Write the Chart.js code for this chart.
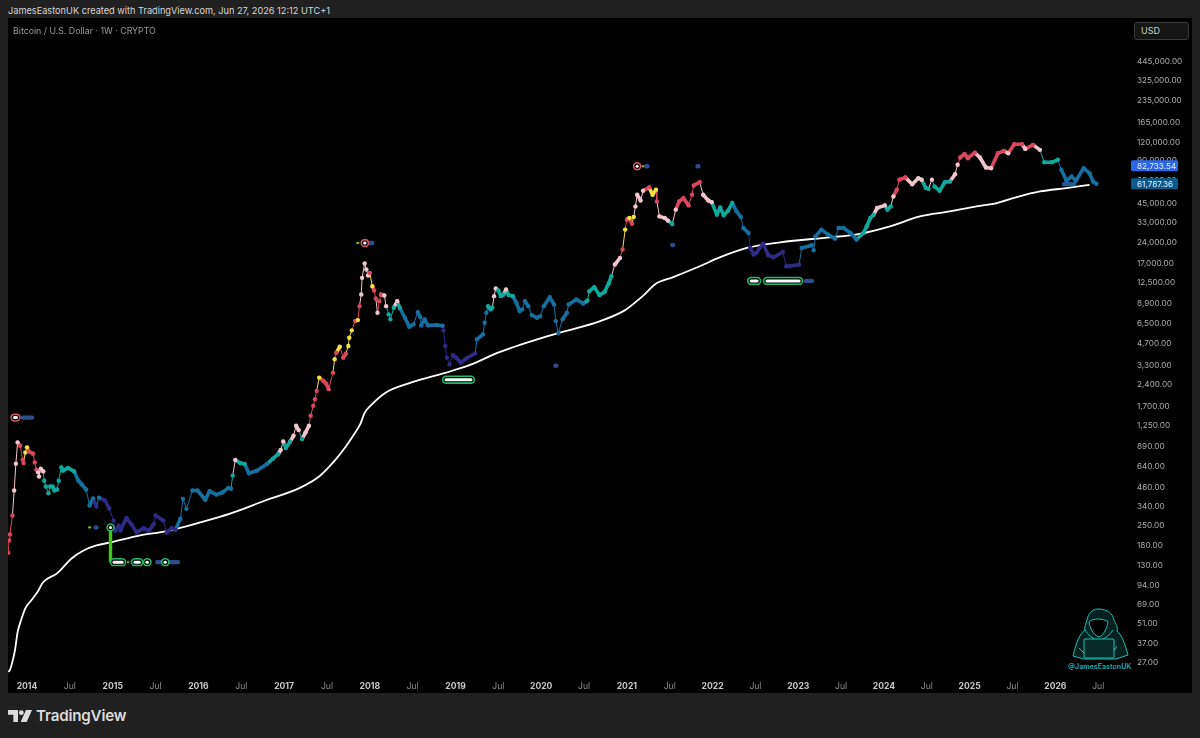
<!DOCTYPE html>
<html>
<head>
<meta charset="utf-8">
<title>Bitcoin / U.S. Dollar</title>
<script src="https://cdn.jsdelivr.net/npm/chart.js@4"></script>
<style>
html, body { margin: 0; padding: 0; background: #202020; overflow: hidden; }
body { width: 1200px; height: 738px; position: relative; font-family: Inter, sans-serif; }
#pane { position: absolute; left: 8px; top: 18px; width: 1184px; height: 675px; background: #000; }
#myChart { position: absolute; left: 0; top: 0; }
.label { position: absolute; white-space: nowrap; }
#credit { left: 8px; top: 5px; font-size: 9.2px; line-height: 12px; color: #d6d6d6; }
#symbol { left: 13px; top: 25px; font-size: 8.8px; line-height: 12px; color: #9c9c9c; }
#currency { left: 1134px; top: 22px; width: 55px; height: 18px; box-sizing: border-box; border: 1px solid #3a3a3a; border-radius: 3px; background: #151515; color: #d0d0d0; font-size: 9px; line-height: 16px; padding-left: 6px; }
#handle { left: 1068px; top: 661px; font-size: 7px; line-height: 11px; font-weight: 700; color: #12a3ad; }
#brand { left: 36px; top: 706px; font-size: 15.2px; line-height: 20px; font-weight: 600; color: #dcdcdc; letter-spacing: -0.2px; }
svg { position: absolute; }
</style>
</head>
<body>
<div id="pane"><canvas id="myChart" width="1184" height="675"></canvas></div>
<div class="label" id="credit">JamesEastonUK created with TradingView.com, Jun 27, 2026 12:12 UTC+1</div>
<div class="label" id="symbol">Bitcoin / U.S. Dollar · 1W · CRYPTO</div>
<div class="label" id="currency">USD</div>

<!-- hooded figure at the laptop -->
<svg style="left:1070px;top:606px" width="60" height="54" viewBox="0 0 60 54" fill="none" stroke="#1cc0b2" stroke-width="1">
  <path d="M28 3c-6 0-10 5-11 11-1 4-3 7-2 10-5 3-9 13-12 26l11 3h32l12-4c-3-11-6-20-11-24 1-4-1-7-3-11-1-6-6-11-16-11z" fill="#04211f"/>
  <path d="M19 16c3-4 15-4 19 0-1 6-4 13-9 15-6-2-9-9-10-15z" fill="#000"/>
  <path d="M15 24c3 5 8 9 14 11 6-2 11-6 14-11M9 42l5 5M47 40l-4 6"/>
  <rect x="14" y="33" width="30" height="19" rx="1" fill="#062b29"/>
</svg>
<div class="label" id="handle">@JamesEastonUK</div>

<svg style="left:8px;top:709px" width="24" height="14" viewBox="0 0 36 20" fill="#dcdcdc">
  <path d="M0 1h15v18H8V8H0z"/><circle cx="20" cy="5" r="3.6"/><path d="M27 1h9l-8 18h-9z"/>
</svg>
<div class="label" id="brand">TradingView</div>

<script>
// weekly closes, as decimal years and USD
const weeks = [
  2013.78, 2013.79, 2013.80, 2013.83, 2013.85, 2013.87, 2013.89, 2013.92, 2013.95, 2013.96,
  2013.98, 2014.00, 2014.02, 2014.07, 2014.09, 2014.11, 2014.13, 2014.14, 2014.16, 2014.19,
  2014.20, 2014.22, 2014.25, 2014.27, 2014.30, 2014.32, 2014.35, 2014.37, 2014.40, 2014.42,
  2014.48, 2014.55, 2014.60, 2014.64, 2014.69, 2014.73, 2014.77, 2014.81, 2014.84, 2014.91,
  2014.96, 2015.01, 2015.03, 2015.07, 2015.09, 2015.16, 2015.22, 2015.28, 2015.36, 2015.42,
  2015.48, 2015.50, 2015.59, 2015.63, 2015.69, 2015.73, 2015.79, 2015.82, 2015.86, 2015.93,
  2015.99, 2016.08, 2016.13, 2016.21, 2016.28, 2016.35, 2016.38, 2016.40, 2016.43, 2016.49,
  2016.54, 2016.59, 2016.68, 2016.80, 2016.87, 2016.93, 2016.96, 2016.99, 2017.02, 2017.07,
  2017.11, 2017.14, 2017.17, 2017.21, 2017.25, 2017.29, 2017.31, 2017.34, 2017.36, 2017.38,
  2017.41, 2017.46, 2017.49, 2017.52, 2017.57, 2017.59, 2017.61, 2017.65, 2017.69, 2017.72,
  2017.75, 2017.76, 2017.79, 2017.83, 2017.86, 2017.88, 2017.90, 2017.91, 2017.94, 2017.96,
  2017.98, 2018.00, 2018.03, 2018.05, 2018.07, 2018.09, 2018.11, 2018.13, 2018.17, 2018.19,
  2018.22, 2018.24, 2018.28, 2018.32, 2018.35, 2018.41, 2018.46, 2018.51, 2018.56, 2018.59,
  2018.60, 2018.64, 2018.68, 2018.78, 2018.85, 2018.86, 2018.88, 2018.90, 2018.93, 2018.97,
  2019.01, 2019.06, 2019.13, 2019.23, 2019.25, 2019.32, 2019.34, 2019.36, 2019.38, 2019.41,
  2019.43, 2019.45, 2019.47, 2019.50, 2019.53, 2019.56, 2019.59, 2019.62, 2019.67, 2019.71,
  2019.75, 2019.78, 2019.81, 2019.85, 2019.89, 2019.95, 2019.99, 2020.03, 2020.10, 2020.15,
  2020.17, 2020.20, 2020.25, 2020.30, 2020.32, 2020.41, 2020.49, 2020.54, 2020.56, 2020.62,
  2020.68, 2020.74, 2020.79, 2020.82, 2020.86, 2020.92, 2020.95, 2020.98, 2021.00, 2021.03,
  2021.06, 2021.08, 2021.10, 2021.12, 2021.16, 2021.19, 2021.26, 2021.30, 2021.34, 2021.35,
  2021.38, 2021.44, 2021.48, 2021.53, 2021.57, 2021.61, 2021.66, 2021.72, 2021.76, 2021.78,
  2021.85, 2021.89, 2021.95, 2021.99, 2022.05, 2022.09, 2022.13, 2022.18, 2022.23, 2022.28,
  2022.33, 2022.36, 2022.42, 2022.44, 2022.48, 2022.51, 2022.59, 2022.65, 2022.71, 2022.82,
  2022.86, 2022.90, 2023.01, 2023.04, 2023.16, 2023.18, 2023.20, 2023.27, 2023.35, 2023.43,
  2023.47, 2023.53, 2023.61, 2023.68, 2023.76, 2023.80, 2023.84, 2023.88, 2023.92, 2024.01,
  2024.04, 2024.08, 2024.11, 2024.15, 2024.18, 2024.25, 2024.33, 2024.40, 2024.44, 2024.49,
  2024.52, 2024.56, 2024.59, 2024.65, 2024.71, 2024.77, 2024.83, 2024.86, 2024.89, 2024.94,
  2024.98, 2025.06, 2025.12, 2025.19, 2025.25, 2025.33, 2025.40, 2025.45, 2025.52, 2025.61,
  2025.65, 2025.74, 2025.82, 2025.87, 2025.96, 2026.03, 2026.07, 2026.13, 2026.19, 2026.24,
  2026.33, 2026.40, 2026.44, 2026.48
];
const closes = [
  160, 195, 215, 292, 437, 674, 950, 900, 718, 680,
  808, 877, 821, 792, 688, 612, 586, 547, 622, 595,
  512, 466, 418, 466, 466, 437, 444, 512, 635, 602,
  629, 595, 512, 481, 444, 343, 385, 337, 389, 372,
  327, 269, 227, 248, 229, 281, 252, 222, 239, 227,
  255, 292, 269, 222, 239, 231, 277, 382, 325, 437,
  437, 376, 433, 409, 423, 456, 450, 556, 715, 680,
  670, 578, 602, 670, 731, 785, 840, 964, 868, 961,
  1057, 1242, 1159, 1003, 1115, 1242, 1459, 1713, 1909, 2181,
  2703, 2562, 2454, 2243, 2929, 3636, 4041, 4453, 3730, 3977,
  4500, 5147, 5795, 6730, 6838, 8568, 10345, 13520, 17040, 15480,
  14050, 14647, 11822, 11030, 9700, 7693, 9285, 10345, 10183, 8568,
  7500, 6922, 8342, 9285, 8342, 7101, 6145, 6384, 7784, 7183,
  6280, 6922, 6280, 6313, 6240, 5794, 4500, 3730, 3346, 3877,
  3730, 3441, 3694, 4002, 5016, 5434, 6550, 7693, 8568, 8130,
  8342, 10065, 11392, 11030, 10065, 10345, 11200, 10234, 10065, 9040,
  7904, 8130, 9285, 8568, 7416, 7101, 7296, 8568, 9905, 8800,
  6730, 5576, 6922, 7693, 8800, 9550, 8950, 9391, 10906, 11641,
  10234, 10770, 12470, 13887, 16770, 18654, 21350, 29455, 34600, 35510,
  32430, 36090, 42843, 51730, 47178, 55157, 58211, 51730, 56093, 46426,
  36474, 35600, 34033, 32230, 40655, 46426, 48992, 43550, 51730, 60100,
  63323, 51730, 47178, 45894, 37500, 42190, 37080, 39975, 45250, 39520,
  36090, 30233, 27900, 21911, 19700, 20200, 23500, 19480, 18870, 20525,
  16310, 16310, 16770, 21900, 22890, 21100, 26400, 29450, 27170, 25480,
  30233, 30233, 27900, 25084, 27900, 31050, 35510, 37500, 41713, 43550,
  40655, 42843, 50325, 56093, 65888, 68378, 61250, 67600, 65888, 57554,
  57000, 66000, 59100, 55157, 63323, 64000, 72080, 83850, 94340, 99900,
  93280, 102000, 94340, 80320, 79400, 101000, 105000, 101000, 116800, 116800,
  108400, 115700, 106700, 87370, 87370, 90900, 77390, 64790, 69500, 64790,
  79400, 73000, 64000, 61787.36
];
// heat band of each close: R hot, P warm, Y flare, T neutral, B cool, N cold
const heat = [
  "R","R","R","R","P","P","P","R","R","R",
  "Y","Y","R","R","R","R","P","P","P","P",
  "T","T","T","T","T","T","T","T","T","T",
  "T","T","B","B","B","B","B","N","B","N",
  "N","N","N","N","N","N","N","N","N","N",
  "N","N","N","N","N","N","B","B","B","B",
  "B","B","B","B","B","B","B","T","P","T",
  "T","B","B","B","T","T","P","P","T","T",
  "P","P","P","T","P","P","R","R","R","R",
  "Y","R","R","R","R","Y","R","Y","R","R",
  "Y","Y","Y","R","Y","R","P","P","P","P",
  "P","R","Y","R","R","P","R","R","P","P",
  "T","T","T","P","T","B","B","B","B","B",
  "B","B","B","B","B","N","N","N","N","N",
  "N","N","N","N","B","B","B","B","T","T",
  "T","P","P","T","T","T","P","T","T","B",
  "B","B","B","B","B","B","B","B","B","B",
  "B","B","B","B","B","B","B","T","T","T",
  "T","T","T","T","P","P","R","Y","R","Y",
  "R","Y","P","P","P","P","R","Y","Y","R",
  "P","P","P","T","P","R","R","R","R","R",
  "R","P","P","P","T","T","T","T","T","B",
  "B","B","B","N","N","N","N","N","N","N",
  "N","N","N","B","B","B","B","B","B","B",
  "B","B","B","B","T","T","T","T","P","P",
  "T","T","P","R","R","R","P","P","P","T",
  "T","P","T","T","T","T","P","P","R","R",
  "R","R","P","P","P","R","R","P","R","R",
  "P","R","P","T","T","T","B","B","B","B",
  "B","B","B","B"
];
const heatColors = { R: "#dc465d", P: "#f2c6cd", Y: "#f3e23f", T: "#10a99d", B: "#15709f", N: "#2e2a86" };

// long-run moving average
const maWeeks = [
  2013.78, 2013.80, 2013.82, 2013.86, 2013.89, 2013.93, 2013.98, 2014.05, 2014.12, 2014.19,
  2014.35, 2014.52, 2014.66, 2014.81, 2014.99, 2015.32, 2015.63, 2016.02, 2016.37, 2016.78,
  2017.19, 2017.42, 2017.59, 2017.71, 2017.79, 2017.89, 2017.94, 2018.03, 2018.18, 2018.47,
  2018.88, 2019.17, 2019.52, 2020.16, 2020.69, 2020.98, 2021.13, 2021.21, 2021.33, 2021.54,
  2021.85, 2022.09, 2022.40, 2022.79, 2023.37, 2023.69, 2024.07, 2024.42, 2024.77, 2025.08,
  2025.32, 2025.55, 2025.82, 2026.13, 2026.40
];
const maValues = [
  23.4, 24.1, 26.2, 33.3, 44.4, 53.8, 65.3, 74.3, 84.5, 99.8,
  114.8, 146, 166, 180, 190, 211.5, 226.6, 261, 301, 372,
  458, 555, 707, 872, 1024, 1283, 1531, 1770, 2112, 2481,
  2915, 3317, 4089, 5461, 6730, 8032, 9435, 10397, 12212, 13675,
  16310, 18870, 21911, 24015, 26030, 27308, 31050, 36474, 39520, 42843,
  45250, 49800, 54530, 57554, 60700
];

// signal rows: [from, to, price]
const greenSignals = [
  [2015.015, 2015.11, 137.5], [2015.26, 2015.31, 137.5], [2015.40, 2015.405, 137.5], [2015.61, 2015.615, 137.5],
  [2014.974, 2014.979, 241],
  [2018.89, 2019.18, 2614],
  [2022.45, 2022.52, 12870], [2022.635, 2023.01, 12870]
];
const redSignals = [
  [2013.854, 2013.877, 1418], [2017.94, 2017.945, 23740], [2021.12, 2021.125, 82000]
];
const navySignals = [
  [2013.95, 2014.06, 1418], [2015.52, 2015.76, 137.5], [2014.80, 2014.81, 241],
  [2017.99, 2018.03, 23740], [2020.165, 2020.175, 3276], [2021.23, 2021.24, 82000],
  [2021.825, 2021.835, 82000], [2021.53, 2021.54, 22980], [2023.09, 2023.16, 12870]
];
const steelSignals = [[2026.10, 2026.22, 61400]];
const limeSignals = [
  [2014.725, 2014.735, 241], [2015.18, 2015.188, 137.5], [2015.365, 2015.373, 137.5],
  [2017.855, 2017.865, 23740], [2021.185, 2021.195, 82000]
];
const limeBar = [[2014.974, 241], [2014.974, 137.5]];

// axis labels
const priceTicks = [
  445000, 325000, 235000, 165000, 120000, 90000, 65000, 45000, 33000, 24000, 17000, 12500,
  8900, 6500, 4700, 3300, 2400, 1700, 1250, 890, 640, 460, 340, 250, 180, 130, 94, 69, 51, 37, 27
];
const timeTicks = [
  2014, 2014.5, 2015, 2015.5, 2016, 2016.5, 2017, 2017.5, 2018, 2018.5, 2019, 2019.5, 2020,
  2020.5, 2021, 2021.5, 2022, 2022.5, 2023, 2023.5, 2024, 2024.5, 2025, 2025.5, 2026, 2026.5
];
// last-value tags on the price axis
const tagValues = [82733.54, 61787.36];
const tagColors = ["#2a68ea", "#0b5a8b"];

const pairUp = (list) => list[0].map((x, i) => ({ x: x, y: list[1][i] }));
const isYear = (c) => c.tick && Number.isInteger(c.tick.value);

function rowLine(row, color, width, order) {
  return {
    data: [{ x: row[0], y: row[2] }, { x: row[1], y: row[2] }],
    showLine: true, pointRadius: 0, borderColor: color, borderWidth: width,
    borderCapStyle: "round", order: order
  };
}

// outlined pill: colored rim, black gap, white core
function pill(row, rim, order) {
  return [
    rowLine(row, rim, 8.4, order + 2),
    rowLine(row, "#000000", 5.2, order + 1),
    rowLine(row, "#ffffff", 3, order)
  ];
}

const signalSets = [
  ...greenSignals.flatMap((row) => pill(row, "#22b865", 0)),
  ...redSignals.flatMap((row) => pill(row, "#d65567", 0)),
  ...navySignals.map((row) => rowLine(row, "#2c4c8c", 4.4, 5)),
  ...steelSignals.map((row) => rowLine(row, "#1f5c96", 4.2, 5)),
  ...limeSignals.map((row) => rowLine(row, "#6fae1e", 2.4, 5)),
  { data: limeBar.map((p) => ({ x: p[0], y: p[1] })), showLine: true, pointRadius: 0,
    borderColor: "#3fc71a", borderWidth: 3.4, order: 3 }
];

const priceTags = {
  id: "priceTags",
  afterDraw(chart) {
    const ctx = chart.ctx;
    const yScale = chart.scales.y;
    tagValues.forEach((value, i) => {
      const y = yScale.getPixelForValue(value);
      ctx.fillStyle = tagColors[i];
      ctx.beginPath();
      ctx.roundRect(1123, y - 5.5, 47, 11, 1.5);
      ctx.fill();
      ctx.fillStyle = "#e6eefb";
      ctx.font = "8.2px Inter";
      ctx.textAlign = "left";
      ctx.textBaseline = "middle";
      ctx.fillText(value.toLocaleString("en-US", { minimumFractionDigits: 2 }), 1129, y + 0.5);
    });
  }
};

const ctx = document.getElementById("myChart");

new Chart(ctx, {
  type: "scatter",
  data: {
    datasets: [
      ...signalSets,
      {
        data: pairUp([weeks, closes]),
        showLine: true,
        order: 10,
        borderWidth: 1,
        borderCapStyle: "round",
        borderJoinStyle: "round",
        pointRadius: 2.2,
        pointBorderWidth: 0,
        pointBackgroundColor: heat.map((h) => heatColors[h]),
        segment: {
          borderColor: (c) => heatColors[heat[c.p1DataIndex]],
          // runs of flat weeks merge into a thick band, steep weeks stay thin
          borderWidth: (c) => (Math.abs(c.p1.y - c.p0.y) > 2.6 * Math.abs(c.p1.x - c.p0.x) ? 1 : 3.6)
        }
      },
      {
        data: pairUp([maWeeks, maValues]),
        showLine: true,
        order: 11,
        pointRadius: 0,
        borderColor: "#ffffff",
        borderWidth: 1.8,
        cubicInterpolationMode: "monotone"
      }
    ]
  },
  options: {
    responsive: false,
    animation: false,
    events: [],
    layout: { padding: 0, autoPadding: false },
    plugins: { legend: { display: false }, tooltip: { enabled: false }, title: { display: false } },
    scales: {
      x: {
        type: "linear",
        min: 2013.778,
        max: 2026.848,
        grid: { display: false },
        border: { display: false },
        afterFit(scale) { scale.height = 20; },
        afterBuildTicks(scale) { scale.ticks = timeTicks.map((v) => ({ value: v })); },
        ticks: {
          autoSkip: false,
          maxRotation: 0,
          padding: 0,
          color: (c) => (isYear(c) ? "#c8c8c8" : "#8d8d8d"),
          font: (c) => ({ family: "Inter", size: 8.6, weight: isYear(c) ? "700" : "400" }),
          callback: (v) => (Number.isInteger(v) ? String(v) : "Jul")
        }
      },
      y: {
        type: "logarithmic",
        position: "right",
        min: 22.98,
        max: 814700,
        grid: { display: false },
        border: { display: false },
        afterFit(scale) { scale.width = 64; },
        afterBuildTicks(scale) { scale.ticks = priceTicks.map((v) => ({ value: v })); },
        ticks: {
          autoSkip: false,
          crossAlign: "near",
          padding: 1,
          color: "#adadad",
          font: { family: "Inter", size: 8.2 },
          callback: (v) => v.toLocaleString("en-US", { minimumFractionDigits: 2 })
        }
      }
    }
  },
  plugins: [priceTags]
});
</script>
</body>
</html>
